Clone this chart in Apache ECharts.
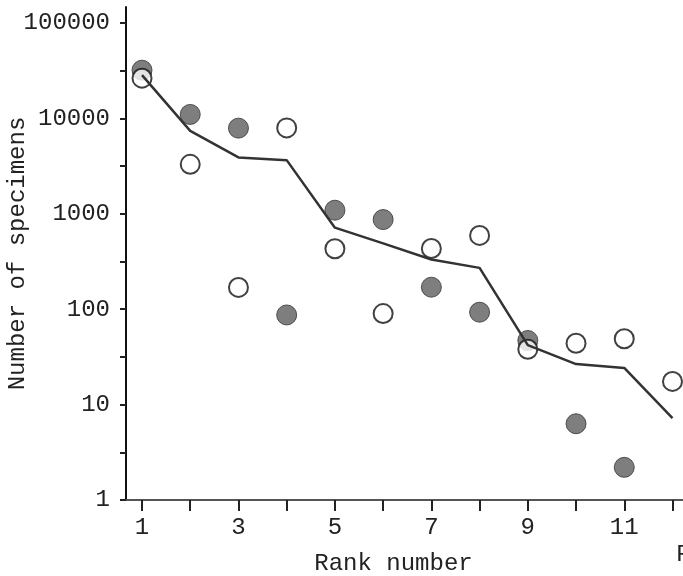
<!DOCTYPE html>
<html>
<head>
<meta charset="utf-8">
<script src="https://cdn.jsdelivr.net/npm/echarts@6/dist/echarts.min.js"></script>
<style>
html,body{margin:0;padding:0;background:#fff;}
#chart{width:683px;height:576px;}
</style>
</head>
<body>
<div id="chart"></div>
<script>
// Rank numbers
var ranks = [1,2,3,4,5,6,7,8,9,10,11,12];
// Filled circles (null = no point)
var filledValues = [32000, 11000, 7900, 87, 1090, 870, 170, 93, 47, 6.3, 2.2, null];
// Open circles
var openValues = [26400, 3300, 169, 7950, 430, 90, 433, 593, 38, 44, 49, 17.5];
// Line (mean)
var lineValues = [28400, 7400, 3900, 3650, 715, 490, 332, 271, 42, 26.6, 24.2, 7.2];
// Tick labels
var xTickValues = [1,2,3,4,5,6,7,8,9,10,11,12];
var xLabelValues = [1,3,5,7,9,11];
var yTickValues = [1, 3.1623, 10, 31.623, 100, 316.23, 1000, 3162.3, 10000, 31623, 100000];
var yLabelValues = [1, 10, 100, 1000, 10000, 100000];

function pairs(vals) {
  var out = [];
  for (var i = 0; i < ranks.length; i++) {
    if (vals[i] != null) out.push([ranks[i], vals[i]]);
  }
  return out;
}

var FONT = '"Liberation Mono", "DejaVu Sans Mono", monospace';
var chart = echarts.init(document.getElementById('chart'), null, {renderer: 'canvas'});
chart.setOption({
  animation: false,
  backgroundColor: '#fff',
  grid: {left: 126, right: 0, top: 7, bottom: 76, containLabel: false, outerBoundsMode: 'none'},
  xAxis: {
    type: 'value',
    min: 0.668,
    max: 12.218,
    name: 'Rank number',
    nameLocation: 'middle',
    nameGap: 48,
    nameMoveOverlap: false,
    nameTextStyle: {fontFamily: FONT, fontSize: 24, color: '#222', padding: [4, 22, 0, 0]},
    axisLine: {show: true, onZero: false, lineStyle: {color: '#555', width: 2}},
    axisTick: {show: true, inside: false, length: 11, customValues: xTickValues, lineStyle: {color: '#222', width: 2}},
    axisLabel: {customValues: xLabelValues, fontFamily: FONT, fontSize: 24, color: '#222', margin: 16,
      formatter: function (v) { return String(Math.round(v)); }},
    splitLine: {show: false}
  },
  yAxis: {
    type: 'log',
    logBase: 10,
    min: 1,
    max: 147000,
    name: 'Number of specimens',
    nameLocation: 'middle',
    nameGap: 96,
    nameMoveOverlap: false,
    nameRotate: 90,
    nameTextStyle: {fontFamily: FONT, fontSize: 24, color: '#222'},
    axisLine: {show: true, lineStyle: {color: '#111', width: 2}},
    axisTick: {show: true, length: 6, customValues: yTickValues, lineStyle: {color: '#222', width: 2}},
    axisLabel: {customValues: yLabelValues, fontFamily: FONT, fontSize: 24, color: '#222', margin: 16,
      formatter: function (v) { return String(Math.round(v)); }},
    splitLine: {show: false}
  },
  graphic: [{
    type: 'text',
    left: 676,
    top: 543,
    style: {text: 'F', font: '24px ' + FONT, fill: '#222'}
  }],
  series: [
    {
      type: 'scatter',
      name: 'filled',
      data: pairs(filledValues),
      symbol: 'circle',
      symbolSize: 20,
      itemStyle: {color: '#5e5e5e', borderColor: '#333', borderWidth: 1},
      z: 2
    },
    {
      type: 'scatter',
      name: 'open',
      data: pairs(openValues),
      symbol: 'circle',
      symbolSize: 19,
      itemStyle: {color: '#fff', borderColor: '#111', borderWidth: 2},
      z: 3
    },
    {
      type: 'line',
      name: 'mean',
      data: pairs(lineValues),
      showSymbol: false,
      symbol: 'none',
      lineStyle: {color: '#333', width: 2.5},
      z: 4
    }
  ]
});
</script>
</body>
</html>
